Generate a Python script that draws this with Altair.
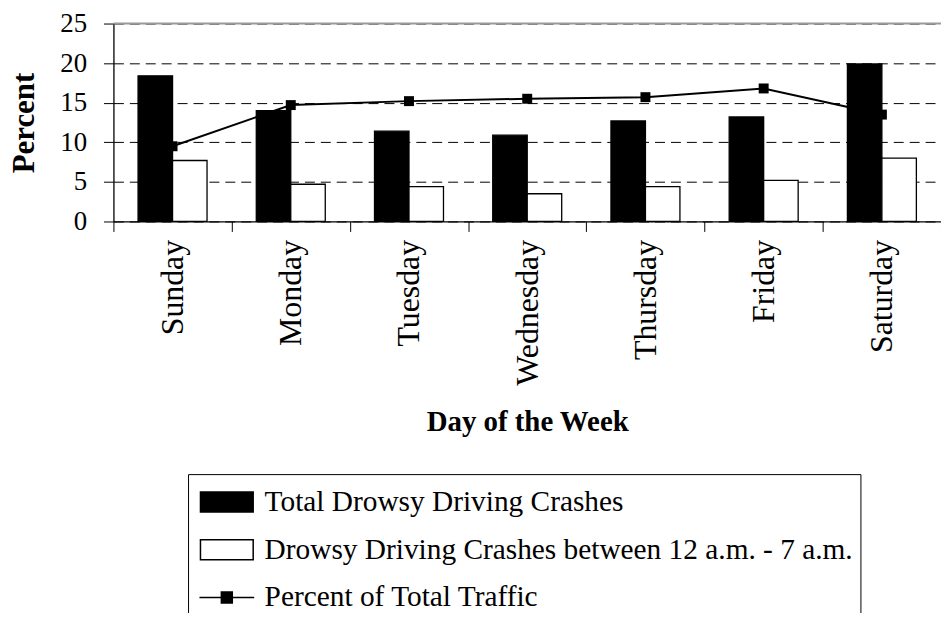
import altair as alt
import pandas as pd

# ---------------- data ----------------
days = ["Sunday", "Monday", "Tuesday", "Wednesday", "Thursday", "Friday", "Saturday"]
total_crashes = [18.4, 14.0, 11.4, 10.9, 12.7, 13.2, 19.9]
night_crashes = [7.7, 4.7, 4.4, 3.5, 4.4, 5.2, 8.0]
traffic_pct = [9.5, 14.7, 15.2, 15.5, 15.7, 16.8, 13.5]
series_names = [
    "Total Drowsy Driving Crashes",
    "Drowsy Driving Crashes between 12 a.m. - 7 a.m.",
    "Percent of Total Traffic",
]
y_ticks = [0, 5, 10, 15, 20, 25]
y_top = [25]

FONT = "Liberation Serif"

bars_df = pd.DataFrame({
    "day": days * 2,
    "series": [series_names[0]] * len(days) + [series_names[1]] * len(days),
    "value": total_crashes + night_crashes,
})
line_df = pd.DataFrame({"day": days, "value": traffic_pct})
legend_df = pd.DataFrame({"series": series_names})
top_df = pd.DataFrame({"value": y_top})

x_axis = alt.Axis(
    title="Day of the Week",
    labelAngle=270,
    labelFontSize=32,
    labelPadding=8,
    labelOverlap=False,
    tickBand="extent",
    tickSize=10,
    titleFontSize=29,
    titleFontWeight="bold",
    titlePadding=22,
    grid=False,
)
x_enc = alt.X(
    "day:N",
    sort=days,
    scale=alt.Scale(domain=days, paddingInner=0, paddingOuter=0),
    axis=x_axis,
)
y_axis = alt.Axis(
    title="Percent",
    values=y_ticks,
    labelFontSize=27,
    labelPadding=17,
    labelOverlap=False,
    tickSize=10,
    titleFontSize=31,
    titleFontWeight="bold",
    titlePadding=19,
    grid=True,
    gridColor="black",
    gridDash=[10, 6],
    gridWidth=1,
)
y_enc = alt.Y(
    "value:Q",
    scale=alt.Scale(domain=[0, 25], nice=False, zero=True),
    axis=y_axis,
)

bars = alt.Chart(bars_df).mark_bar(stroke="black", strokeWidth=1.3).encode(
    x=x_enc,
    xOffset=alt.XOffset(
        "series:N",
        sort=series_names[:2],
        scale=alt.Scale(domain=series_names[:2], paddingInner=0, paddingOuter=0.714),
    ),
    y=y_enc,
    color=alt.Color(
        "series:N",
        scale=alt.Scale(domain=series_names[:2], range=["black", "white"]),
        legend=None,
    ),
)

line = alt.Chart(line_df).mark_line(
    color="black",
    strokeWidth=2,
    point=alt.OverlayMarkDef(shape="square", size=100, filled=True, color="black", opacity=1),
).encode(x=x_enc, y=y_enc)

top_rule = alt.Chart(top_df).mark_rule(color="#9a9a9a", strokeWidth=2).encode(y=y_enc)

rect_path = "M-1.325,-0.5H1.325V0.5H-1.325Z"
line_path = "M-1.375,0H1.375M-0.275,-0.275H0.275V0.275H-0.275Z"

legend_common = dict(
    title=None,
    orient="none",
    legendX=75,
    legendY=453,
    symbolSize=1600,
    symbolOffset=11,
    symbolOpacity=1,
    labelFont=FONT,
    labelFontSize=29.5,
    labelColor="black",
    labelOffset=17,
    labelLimit=1000,
    rowPadding=12,
    padding=7,
    strokeColor="black",
    fillColor="white",
)

carrier = alt.Chart(legend_df).mark_point(
    filled=False, stroke="black", strokeWidth=1.8, opacity=0
).encode(
    fill=alt.Fill(
        "series:N",
        sort=series_names,
        scale=alt.Scale(domain=series_names, range=["black", "white", "black"]),
        legend=alt.Legend(**legend_common),
    ),
    shape=alt.Shape(
        "series:N",
        sort=series_names,
        scale=alt.Scale(domain=series_names, range=[rect_path, rect_path, line_path]),
        legend=alt.Legend(**legend_common),
    ),
)

chart = (
    alt.layer(bars, line, top_rule, carrier)
    .properties(
        width=832,
        height=199,
        autosize=alt.AutoSizeParams(type="none"),
        padding={"left": 106, "top": 14, "right": 0, "bottom": 392},
        background="white",
    )
    .configure_view(strokeWidth=0)
    .configure_axis(
        domainColor="black",
        domainWidth=1.3,
        tickColor="black",
        tickWidth=1,
        labelColor="black",
        titleColor="black",
        labelFont=FONT,
        titleFont=FONT,
    )
)

chart.save("out.html", embed_options={"renderer": "svg", "actions": False})
